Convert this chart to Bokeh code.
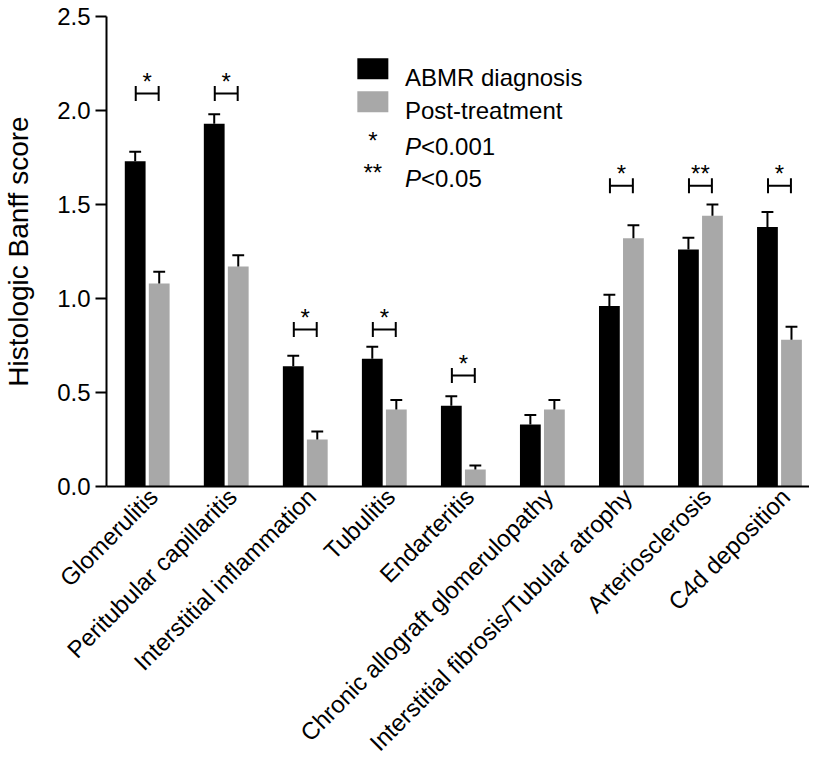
import math
from bokeh.plotting import figure
from bokeh.models import Range1d, FixedTicker, NumeralTickFormatter
from bokeh.core.properties import value
from bokeh.embed import file_html
from bokeh.resources import INLINE

# ---- data ----
categories = ["Glomerulitis", "Peritubular capillaritis", "Interstitial inflammation",
              "Tubulitis", "Endarteritis", "Chronic allograft glomerulopathy",
              "Interstitial fibrosis/Tubular atrophy", "Arteriosclerosis", "C4d deposition"]
abmr = [1.73, 1.93, 0.64, 0.68, 0.43, 0.33, 0.96, 1.26, 1.38]
abmr_err = [0.05, 0.05, 0.055, 0.063, 0.05, 0.05, 0.06, 0.063, 0.08]
post = [1.08, 1.17, 0.25, 0.41, 0.09, 0.41, 1.32, 1.44, 0.78]
post_err = [0.062, 0.06, 0.042, 0.05, 0.022, 0.05, 0.07, 0.06, 0.07]
sig_marks = ["*", "*", "*", "*", "*", "", "*", "**", "*"]
sig_heights = [2.09, 2.09, 0.835, 0.835, 0.59, None, 1.60, 1.60, 1.60]
y_ticks = [0.0, 0.5, 1.0, 1.5, 2.0, 2.5]
series_names = ["ABMR diagnosis", "Post-treatment"]
p_labels = ["<0.001", "<0.05"]
p_stars = ["*", "**"]

BLACK = "#000000"
GREY = "#a8a8a8"
FONT = "Liberation Sans"

idx = list(range(len(categories)))
dodge = 0.152
bar_w = 0.263
cap = 0.075
label_shift = 0.08

p = figure(width=809, height=768, output_backend="svg", toolbar_location=None,
           x_range=Range1d(-0.515, 8.38), y_range=Range1d(0, 2.5),
           min_border_left=100, min_border_right=0, min_border_top=16, min_border_bottom=0)
p.outline_line_color = None
p.grid.visible = False
p.background_fill_color = "white"

xb = [i - dodge for i in idx]
xg = [i + dodge for i in idx]

p.vbar(x=xb, top=abmr, width=bar_w, fill_color=BLACK, line_color=None)
p.vbar(x=xg, top=post, width=bar_w, fill_color=GREY, line_color=None)

# error bars (upper only)
for xs, vals, errs in [(xb, abmr, abmr_err), (xg, post, post_err)]:
    tops = [v + e for v, e in zip(vals, errs)]
    p.segment(x0=xs, y0=vals, x1=xs, y1=tops, line_color="black", line_width=2)
    p.segment(x0=[x - cap for x in xs], y0=tops, x1=[x + cap for x in xs], y1=tops,
              line_color="black", line_width=2)

# significance brackets
bx0, bx1, bh, sx, st = [], [], [], [], []
for i, (m, h) in enumerate(zip(sig_marks, sig_heights)):
    if h is None:
        continue
    bx0.append(i - 0.145); bx1.append(i + 0.145); bh.append(h)
    sx.append(i); st.append(m)
p.segment(x0=bx0, y0=bh, x1=bx1, y1=bh, line_color="black", line_width=2)
p.segment(x0=bx0, y0=[h - 0.04 for h in bh], x1=bx0, y1=[h + 0.04 for h in bh],
          line_color="black", line_width=2)
p.segment(x0=bx1, y0=[h - 0.04 for h in bh], x1=bx1, y1=[h + 0.04 for h in bh],
          line_color="black", line_width=2)
p.text(x=sx, y=[h + 0.066 for h in bh], text=st, text_align="center",
       text_baseline="alphabetic", text_font=value(FONT), text_font_size="24px",
       text_color="black")

# legend (custom)
leg_x = 2.855
txt_x = 3.262
p.rect(x=[leg_x, leg_x], y=[2.222, 2.046], width=31, height=21,
       width_units="screen", height_units="screen",
       fill_color=[BLACK, GREY], line_color=None)
p.text(x=[txt_x, txt_x], y=[2.173, 1.999], text=series_names, text_align="left",
       text_baseline="alphabetic", text_font=value(FONT), text_font_size="24px",
       text_color="black")
p.text(x=[leg_x, leg_x], y=[1.841, 1.672], text=p_stars, text_align="center",
       text_baseline="alphabetic", text_font=value(FONT), text_font_size="24px",
       text_color="black")
p.text(x=[txt_x, txt_x], y=[1.809, 1.640], text=["P", "P"], text_align="left",
       text_baseline="alphabetic", text_font=value(FONT), text_font_size="24px",
       text_font_style="italic", text_color="black")
p.text(x=[txt_x, txt_x], y=[1.809, 1.640], text=p_labels, text_align="left",
       x_offset=16, text_baseline="alphabetic", text_font=value(FONT),
       text_font_size="24px", text_color="black")

# y axis
ya = p.yaxis[0]
ya.ticker = FixedTicker(ticks=y_ticks)
ya.formatter = NumeralTickFormatter(format="0.0")
ya.minor_tick_line_color = None
ya.major_tick_in = 0
ya.major_tick_out = 11
ya.major_tick_line_width = 2
ya.axis_line_width = 2
ya.major_label_text_font = FONT
ya.major_label_text_font_size = "24px"
ya.major_label_text_color = "black"
ya.major_label_standoff = 5
ya.axis_label = "Histologic Banff score"
ya.axis_label_text_font = FONT
ya.axis_label_text_font_size = "28px"
ya.axis_label_text_font_style = "normal"
ya.axis_label_text_color = "black"
ya.axis_label_standoff = 20

# x axis
xa = p.xaxis[0]
label_pos = [i + label_shift for i in idx]
xa.ticker = FixedTicker(ticks=label_pos)
xa.major_label_overrides = {t: c for t, c in zip(label_pos, categories)}
xa.major_label_orientation = math.pi / 4
xa.minor_tick_line_color = None
xa.major_tick_line_color = None
xa.major_tick_in = 0
xa.major_tick_out = 0
xa.axis_line_width = 2
xa.major_label_text_font = FONT
xa.major_label_text_font_size = "24px"
xa.major_label_text_color = "black"
xa.major_label_standoff = 6

open("out.html", "w").write(file_html(p, INLINE))
